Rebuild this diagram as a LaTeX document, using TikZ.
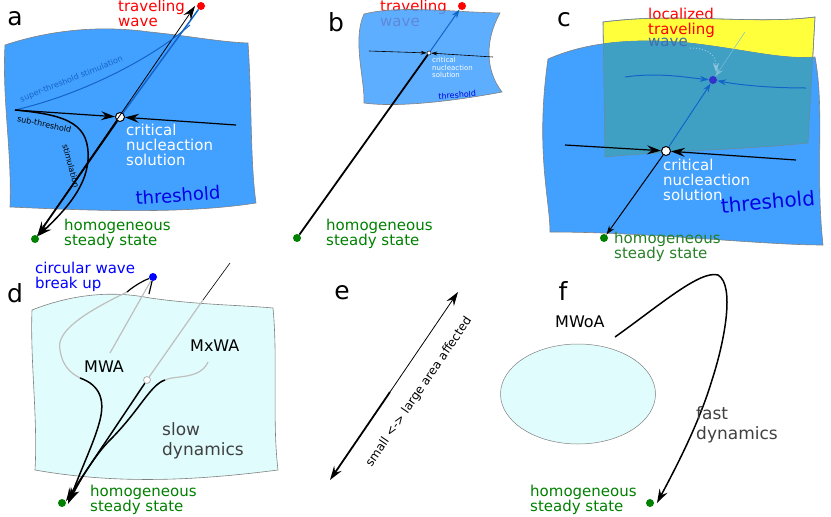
\documentclass[tikz,border=0pt]{standalone}
\usepackage{fontspec}
\setmainfont{DejaVu Sans}
\usetikzlibrary{arrows.meta,shapes.geometric}
\definecolor{surf}{RGB}{66,160,255}
\definecolor{teal2}{RGB}{64,160,196}
\definecolor{pale}{RGB}{224,252,252}
\definecolor{hgreen}{RGB}{0,128,0}
\definecolor{yel}{RGB}{255,255,60}
\definecolor{dkb}{RGB}{0,0,230}
\definecolor{mblue}{RGB}{20,100,200}
\begin{document}
\begin{tikzpicture}[x=1pt,y=-1pt,
  lab/.style={font=\fontsize{25}{25}\selectfont,anchor=center},
  txt/.style={font=\fontsize{15}{15}\selectfont,align=left,anchor=north west,inner sep=0},
  tip/.style={-{Stealth[length=14pt,width=9pt,inset=5pt]}},
  stip/.style={-{Stealth[length=9pt,width=6pt,inset=3pt]}},
  dot/.style={circle,inner sep=0,minimum size=8pt},
  crit/.style={circle,draw=black,fill=white,inner sep=0,minimum size=9pt,line width=1pt},
  edge/.style={draw=gray,line width=0.6pt}]
\useasboundingbox (0,0) rectangle (831,517);
% ---------- a ----------
\node[lab] (la) at (15,19) {a};
\path[fill=surf,edge] (5,45) .. controls (50,30) and (100,25) .. (150,32) .. controls (190,36) and (220,42) .. (248,43)
  .. controls (252,100) and (250,160) .. (256,203) .. controls (180,215) and (80,210) .. (10,207)
  .. controls (12,150) and (2,100) .. (5,45) -- cycle;
\node[dot,fill=red] (ra) at (201,6) {};
\node[dot,fill=hgreen] (ga) at (35,239) {};
\node[crit] (ca) at (120,117) {};
\coordinate (sa) at (15,110);
\coordinate (ea) at (236,125);
\draw[mblue,line width=1.5pt] (ca) -- (ra);
\draw[black,line width=0.8pt,tip] (ga) -- ([xshift=-3pt,yshift=3pt]ra.south west);
\draw[black,line width=1.8pt,tip] (ca) -- (ga);
\draw[mblue,line width=1pt] (sa) .. controls (80,95) and (150,60) .. (190,25);
\draw[black,line width=1.2pt,tip] (sa) -- (ca);
\draw[black,line width=1.2pt,tip] (ea) -- (ca);
\draw[black,line width=1.5pt,tip] (sa) .. controls (70,115) and (90,125) .. (88,160) .. controls (86,190) and (60,215) .. (ga);
\node[txt,font=\fontsize{8}{9}\selectfont,text=mblue,rotate=22,anchor=south west] (sup) at (22,104) {super-threshold stimulation};
\node[txt,font=\fontsize{8}{9}\selectfont,anchor=north west,rotate=-12] (sub) at (18,115) {sub-threshold};
\node[font=\fontsize{8}{9}\selectfont,rotate=-75,inner sep=0] (stim) at (71,166) {stimulation};
\node[txt,text=red] (tw) at (118,0) {traveling\\wave};
\node[txt,text=white] (cn) at (126,124) {critical\\nucleaction\\solution};
\node[txt,text=dkb,font=\fontsize{18}{18}\selectfont,rotate=4] (th) at (135,191) {threshold};
\node[txt,text=hgreen] (hs) at (64,219) {homogeneous\\steady state};
% ---------- b ----------
\node[lab] (lb) at (336,22) {b};
\node[txt,text=red] (twb) at (380,0) {traveling\\wave};
\path[fill=surf,fill opacity=0.85,edge] (364,14) .. controls (400,5) and (450,12) .. (500,13)
  .. controls (485,40) and (485,70) .. (502,92) .. controls (460,100) and (400,108) .. (364,103)
  .. controls (365,80) and (352,40) .. (364,14) -- cycle;
\node[dot,fill=red] (rb) at (462,6) {};
\node[dot,fill=hgreen] (gb) at (297,238) {};
\node[crit,minimum size=4pt,line width=0.5pt] (cb) at (429,53) {};
\coordinate (sb) at (369,51);
\coordinate (eb) at (493,57);
\draw[mblue,line width=1pt,stip] (cb) -- (rb);
\draw[black,line width=1.8pt] (gb) -- (cb);
\draw[black,line width=0.6pt,-{Stealth[length=6pt,width=4pt,inset=2pt]}] (sb) -- (cb);
\draw[black,line width=0.6pt,-{Stealth[length=6pt,width=4pt,inset=2pt]}] (eb) -- (cb);
\node[txt,text=white,font=\fontsize{7}{7.5}\selectfont] (cnb) at (432,57) {critical\\nucleaction\\solution};
\node[txt,text=dkb,font=\fontsize{8}{8}\selectfont,rotate=4] (thb) at (438,93) {threshold};
\node[txt,text=hgreen] (hsb) at (326,219) {homogeneous\\steady state};
% ---------- c ----------
\node[lab] (lc) at (564,20) {c};
\path[fill=yel,edge] (603,22) .. controls (680,12) and (750,25) .. (815,17) -- (808,143)
  .. controls (740,150) and (680,150) .. (605,157) -- cycle;
\node[txt,text=red] (lt) at (648,8) {localized\\traveling};
\path[fill=surf,edge] (548,59) .. controls (580,45) and (620,38) .. (680,42) .. controls (740,48) and (780,60) .. (815,57)
  .. controls (825,110) and (815,170) .. (823,245) .. controls (760,245) and (650,232) .. (550,232)
  .. controls (550,200) and (535,150) .. (548,59) -- cycle;
\begin{scope}
\clip (548,59) .. controls (580,45) and (620,38) .. (680,42) .. controls (740,48) and (780,60) .. (815,57)
  .. controls (825,110) and (815,170) .. (823,245) -- (548,245) -- cycle;
\path[fill=teal2] (603,22) .. controls (680,12) and (750,25) .. (815,17) -- (808,143)
  .. controls (740,150) and (680,150) .. (605,157) -- cycle;
\end{scope}
\draw[gray!70!teal2,line width=0.5pt] (603,22) .. controls (680,12) and (750,25) .. (815,17) -- (808,143)
  .. controls (740,150) and (680,150) .. (605,157) -- cycle;
\node[txt,text=mblue!60!gray] (wv) at (648,38) {wave};
\node[dot,fill=blue!60!gray] (pc) at (713,80) {};
\node[crit] (cc) at (666,151) {};
\node[dot,fill=hgreen] (gc) at (604,238) {};
\coordinate (tc) at (745,32);
\coordinate (s1) at (625,77);
\coordinate (e1) at (806,88);
\coordinate (s2) at (565,145);
\coordinate (e2) at (796,160);
\draw[teal2!70!white,line width=0.5pt,stip] (tc) -- (pc);
\draw[teal2!60!white,dotted,line width=1pt,stip] (690,48) .. controls (712,48) and (716,58) .. (716,72);
\draw[mblue,line width=1pt,stip] (cc) -- (pc);
\draw[mblue,line width=1pt,stip] (s1) .. controls (660,72) and (690,78) .. (pc);
\draw[mblue,line width=1pt,stip] (e1) .. controls (770,88) and (740,85) .. (pc);
\draw[black,line width=1pt,stip] (cc) -- (gc);
\draw[black,line width=1.2pt,tip] (s2) -- (cc);
\draw[black,line width=1.2pt,tip] (e2) -- (cc);
\node[txt,text=white] (cnc) at (663,159) {critical\\nucleaction\\solution};
\node[txt,text=dkb,font=\fontsize{20}{20}\selectfont,rotate=5] (thc) at (720,198) {threshold};
\node[txt,text=hgreen!70!gray] (hsc) at (614,232) {homogeneous\\steady state};
% ---------- d ----------
\node[lab] (ld) at (15,293) {d};
\path[fill=pale,edge] (32,310) .. controls (70,295) and (110,290) .. (150,298) .. controls (200,305) and (240,305) .. (273,308)
  .. controls (278,360) and (272,420) .. (278,470) .. controls (200,480) and (120,485) .. (35,470)
  .. controls (38,420) and (30,360) .. (32,310) -- cycle;
\node[dot,fill=blue] (bd) at (153,277) {};
\node[dot,fill=hgreen] (gd) at (62,503) {};
\node[circle,draw=gray!60,fill=white,inner sep=0,minimum size=7pt,line width=0.8pt] (cd) at (147,380) {};
\coordinate (td) at (230,263);
\coordinate (td2) at (203,300);
\draw[black,line width=0.6pt] (td) -- (td2);
\draw[gray!50,line width=1.2pt] (td2) -- (cd);
\draw[gray!50,line width=1.2pt] (bd) -- (110,353);
\draw[gray!50,line width=1.2pt] (127,292) .. controls (90,310) and (55,330) .. (60,350) .. controls (63,370) and (75,375) .. (80,378);
\draw[black,line width=1.2pt] (bd) .. controls (145,280) and (135,285) .. (127,292);
\draw[black,line width=1.2pt] (bd) -- (149,294);
\draw[black,line width=1.5pt,tip] (80,378) .. controls (100,385) and (105,400) .. (100,420) .. controls (95,440) and (85,460) .. ([xshift=3pt,yshift=-4pt]gd.north east);
\draw[gray!50,line width=1.2pt] (208,362) .. controls (200,380) and (175,375) .. (165,380);
\draw[black,line width=1.5pt,tip] (165,380) .. controls (150,385) and (140,410) .. (110,440) .. controls (95,455) and (80,480) .. ([xshift=4pt,yshift=-2pt]gd.north east);
\draw[black,line width=1.5pt,tip] (cd) -- ([xshift=1pt,yshift=-1pt]gd.north east);
\node[txt,text=blue] (cw) at (35,262) {circular wave\\break up};
\node[txt,font=\fontsize{16}{16}\selectfont] (mwa) at (84,361) {MWA};
\node[txt,font=\fontsize{16}{16}\selectfont] (mx) at (190,340) {MxWA};
\node[txt,text=darkgray,font=\fontsize{17}{20}\selectfont] (sd) at (162,422) {slow\\dynamics};
\node[txt,text=hgreen] (hsd) at (90,485) {homogeneous\\steady state};
% ---------- e ----------
\node[lab] (le) at (342,293) {e};
\coordinate (e0) at (330,480);
\coordinate (e9) at (458,292);
\draw[line width=1.8pt,tip] (390,392) -- (e0);
\draw[line width=0.8pt,tip] (390,392) -- (e9);
\node[font=\fontsize{12}{12}\selectfont,rotate=55.7] (et) at (419,392) {small <-> large area affected};
% ---------- f ----------
\node[lab] (lf) at (563,291) {f};
\node[ellipse,draw=gray,fill=pale,minimum width=155pt,minimum height=100pt,line width=0.5pt] (ell) at (578,394) {};
\node[txt,font=\fontsize{16}{16}\selectfont] (mwoa) at (555,316) {MWoA};
\node[dot,fill=hgreen] (gf) at (650,503) {};
\draw[black,line width=1.5pt,tip] (615,337) .. controls (660,305) and (700,270) .. (718,275) .. controls (735,285) and (725,340) .. (712,380) .. controls (700,420) and (680,460) .. ([xshift=4pt,yshift=-3pt]gf.north east);
\node[txt,text=darkgray,font=\fontsize{17}{20}\selectfont] (fd) at (696,406) {fast\\dynamics};
\node[txt,text=hgreen] (hsf) at (530,485) {homogeneous\\steady state};
\end{tikzpicture}
\end{document}
